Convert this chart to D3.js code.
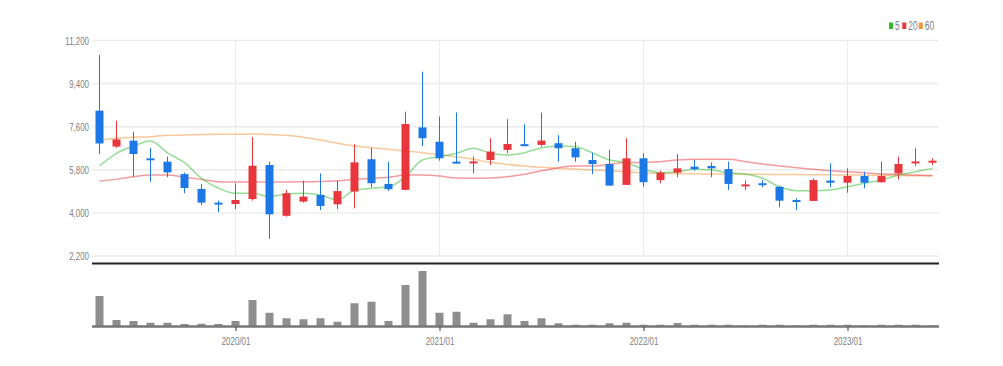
<!DOCTYPE html>
<html>
<head>
<meta charset="utf-8">
<script src="https://cdn.jsdelivr.net/npm/d3@7"></script>
<style>
  html, body { margin: 0; padding: 0; background: #fff; }
  svg { display: block; }
  text { font-family: "Liberation Sans", Arial, sans-serif; fill: #808080; }
</style>
</head>
<body>
<div id="chart"></div>
<script>
/* ---------- dados (mensal, 2019/05 ~ 2023/06) ---------- */
const months = [
  '2019/05','2019/06','2019/07','2019/08','2019/09','2019/10','2019/11','2019/12',
  '2020/01','2020/02','2020/03','2020/04','2020/05','2020/06','2020/07','2020/08','2020/09','2020/10','2020/11','2020/12',
  '2021/01','2021/02','2021/03','2021/04','2021/05','2021/06','2021/07','2021/08','2021/09','2021/10','2021/11','2021/12',
  '2022/01','2022/02','2022/03','2022/04','2022/05','2022/06','2022/07','2022/08','2022/09','2022/10','2022/11','2022/12',
  '2023/01','2023/02','2023/03','2023/04','2023/05','2023/06'
];
const open  = [8270,6770,7015,6280,6140,5620,5000,4430,4370,4580,6000,3880,4470,4750,4360,4890,6240,5210,4960,7570,
               6970,6140,6120,6210,6630,6870,6840,6910,6700,6210,6040,5170,6280,5370,5680,5930,5960,5830,5150,5240,
               5090,4540,4500,5350,5260,5540,5280,5650,6070,6130];
const high  = [10600,7850,7390,6700,6350,5680,5210,4510,5240,7160,6140,4960,5350,5650,5330,6870,6720,6140,8230,9900,
               8020,8190,6350,7120,7910,7700,8190,7250,6970,6510,6630,7120,6490,5760,6460,6210,6100,6140,5350,5370,
               5120,4610,5450,6070,5860,5720,6140,6350,6700,6280];
const low   = [6460,6720,5510,5300,5490,4820,4320,4030,4160,4510,2920,3840,4430,4120,4160,4190,5070,4910,4950,6790,
               6180,6060,5650,6000,6490,6780,6770,6140,6140,5620,5130,5160,5090,5240,5490,5760,5490,4960,4960,5070,
               4230,4120,4490,5070,4840,5030,5270,5400,5960,6000];
const close = [6900,7070,6460,6210,5690,5040,4430,4370,4540,5970,3940,4820,4680,4290,4910,6110,5240,4990,7710,7120,
               6280,6070,6150,6560,6880,6800,7020,6700,6320,6040,5140,6280,5280,5680,5860,5830,5860,5210,5190,5190,
               4510,4500,5370,5260,5540,5260,5540,6040,6150,6180];
const volume = [1200,240,200,130,130,80,90,80,200,1040,530,310,270,310,170,910,970,200,1640,2200,
                530,570,130,270,470,200,310,110,50,50,110,130,50,50,120,50,50,50,20,50,
                50,20,50,50,50,20,50,50,50,20];

/* médias móveis */
const ma5  = [5970,6490,6790,7000,6510,6100,5445,5030,4820,4820,4680,4790,4820,4750,4540,4950,5030,5090,5510,6210,
              6350,6490,6700,6490,6420,6510,6720,6790,6760,6510,6210,6100,5820,5680,5720,5820,5790,5680,5620,5445,
              5090,4930,4930,4960,5090,5240,5370,5580,5720,5860];
const ma20 = [5330,5400,5510,5580,5580,5490,5400,5300,5290,5290,5290,5290,5300,5310,5345,5400,5445,5490,5580,5580,
              5540,5460,5450,5460,5510,5610,5760,5890,5960,5960,6030,6100,6100,6140,6210,6240,6240,6240,6140,6040,
              5960,5890,5820,5760,5720,5680,5620,5610,5580,5560];
const ma60 = [7040,7115,7160,7180,7240,7250,7270,7280,7280,7295,7270,7240,7160,7040,6906,6794,6723,6656,6585,6514,
              6418,6347,6238,6113,6029,5958,5904,5862,5833,5791,5763,5721,5670,5650,5640,5630,5625,5620,5615,5610,
              5605,5600,5595,5590,5585,5580,5570,5560,5550,5545];

const yTicks  = [2200, 4000, 5800, 7600, 9400, 11200];
const xTicks  = ['2020/01', '2021/01', '2022/01', '2023/01'];
const maSeries = [
  { key: '5',  values: ma5,  color: '#2dbb2d' },
  { key: '20', values: ma20, color: '#e8383d' },
  { key: '60', values: ma60, color: '#f29438' }
];

const candles = months.map((m, i) => ({ m, o: open[i], h: high[i], l: low[i], c: close[i], v: volume[i] }));

/* ---------- área ---------- */
const W = 1003, H = 366;
const plot = { left: 92, right: 939, top: 40.5, bottom: 256 };
const vol  = { top: 271, bottom: 326 };

const svg = d3.select('#chart').append('svg').attr('width', W).attr('height', H);

const x = d3.scalePoint().domain(months).range([99.5, 932.5]);
const y = d3.scaleLinear().domain([2200, 11200]).range([plot.bottom, plot.top]);
const yv = d3.scaleLinear().domain([0, d3.max(volume)]).range([vol.bottom, vol.top]);

// texto "estreito": comprime a largura como na fonte original
function narrow(sel, k = 0.72) {
  sel.each(function () {
    const w = this.getComputedTextLength();
    d3.select(this).attr('textLength', w * k).attr('lengthAdjust', 'spacingAndGlyphs');
  });
}

/* ---------- grade ---------- */
const grid = svg.append('g');
grid.selectAll('line.h').data(yTicks).enter().append('line')
  .attr('x1', plot.left).attr('x2', plot.right)
  .attr('y1', d => y(d)).attr('y2', d => y(d))
  .attr('stroke', '#ececec').attr('stroke-width', 1.5);
grid.selectAll('line.v').data(xTicks).enter().append('line')
  .attr('x1', d => x(d)).attr('x2', d => x(d))
  .attr('y1', plot.top).attr('y2', plot.bottom)
  .attr('stroke', '#ececec').attr('stroke-width', 1);

/* eixo y */
const yAxis = svg.append('g')
  .attr('transform', `translate(${plot.left - 3},0)`)
  .call(d3.axisLeft(y).tickValues(yTicks).tickSize(0).tickPadding(0).tickFormat(d3.format(',')));
yAxis.select('.domain').remove();
yAxis.selectAll('text').attr('fill', '#7a7a7a').style('font-size', '11px').call(narrow);

/* separador */
svg.append('line')
  .attr('x1', plot.left).attr('x2', plot.right)
  .attr('y1', 263.5).attr('y2', 263.5)
  .attr('stroke', '#222').attr('stroke-width', 2);

/* ---------- médias móveis ---------- */
const line = d3.line().x((d, i) => x(months[i])).y(d => y(d)).curve(d3.curveMonotoneX);
svg.append('g').selectAll('path').data(maSeries.slice().reverse()).enter().append('path')
  .attr('d', d => line(d.values))
  .attr('fill', 'none')
  .attr('stroke', d => d.color)
  .attr('stroke-opacity', 0.5)
  .attr('stroke-width', 1.5);

/* ---------- candles ---------- */
const up = '#e8363c', down = '#1b78e6';
const cg = svg.append('g').selectAll('g').data(candles).enter().append('g');
cg.append('line')
  .attr('x1', d => x(d.m)).attr('x2', d => x(d.m))
  .attr('y1', d => y(d.h)).attr('y2', d => y(d.l))
  .attr('stroke', d => d.c >= d.o ? up : down).attr('stroke-width', 1);
cg.append('rect')
  .attr('x', d => x(d.m) - 4).attr('width', 8)
  .attr('y', d => y(Math.max(d.o, d.c)))
  .attr('height', d => Math.max(2, Math.abs(y(d.o) - y(d.c))))
  .attr('fill', d => d.c >= d.o ? up : down);

/* ---------- volume ---------- */
svg.append('g').selectAll('rect').data(candles).enter().append('rect')
  .attr('x', d => x(d.m) - 4).attr('width', 8)
  .attr('y', d => yv(d.v))
  .attr('height', d => vol.bottom - yv(d.v))
  .attr('fill', '#8e8e8e');
svg.append('line')
  .attr('x1', plot.left).attr('x2', plot.right)
  .attr('y1', vol.bottom + 0.5).attr('y2', vol.bottom + 0.5)
  .attr('stroke', '#777').attr('stroke-width', 2.5);

/* eixo x */
const xAxis = svg.append('g')
  .attr('transform', `translate(0,${vol.bottom + 1})`)
  .call(d3.axisBottom(x).tickValues(xTicks).tickSize(4).tickPadding(6));
xAxis.select('.domain').remove();
xAxis.selectAll('.tick line').attr('stroke', '#333');
xAxis.selectAll('text').attr('fill', '#7a7a7a').style('font-size', '11px').call(narrow);

/* ---------- legenda ---------- */
const lg = svg.append('g').attr('transform', 'translate(889,22)');
let lx = 0;
maSeries.forEach(s => {
  lg.append('rect').attr('x', lx).attr('y', 0.5).attr('width', 4).attr('height', 6.5).attr('fill', s.color);
  const t = lg.append('text').attr('x', lx + 6).attr('y', 8).style('font-size', '12px').attr('fill', '#888').text(s.key);
  t.call(narrow, 0.7);
  lx += 6 + t.node().getComputedTextLength() * 0.7 + 4;
});
</script>
</body>
</html>
